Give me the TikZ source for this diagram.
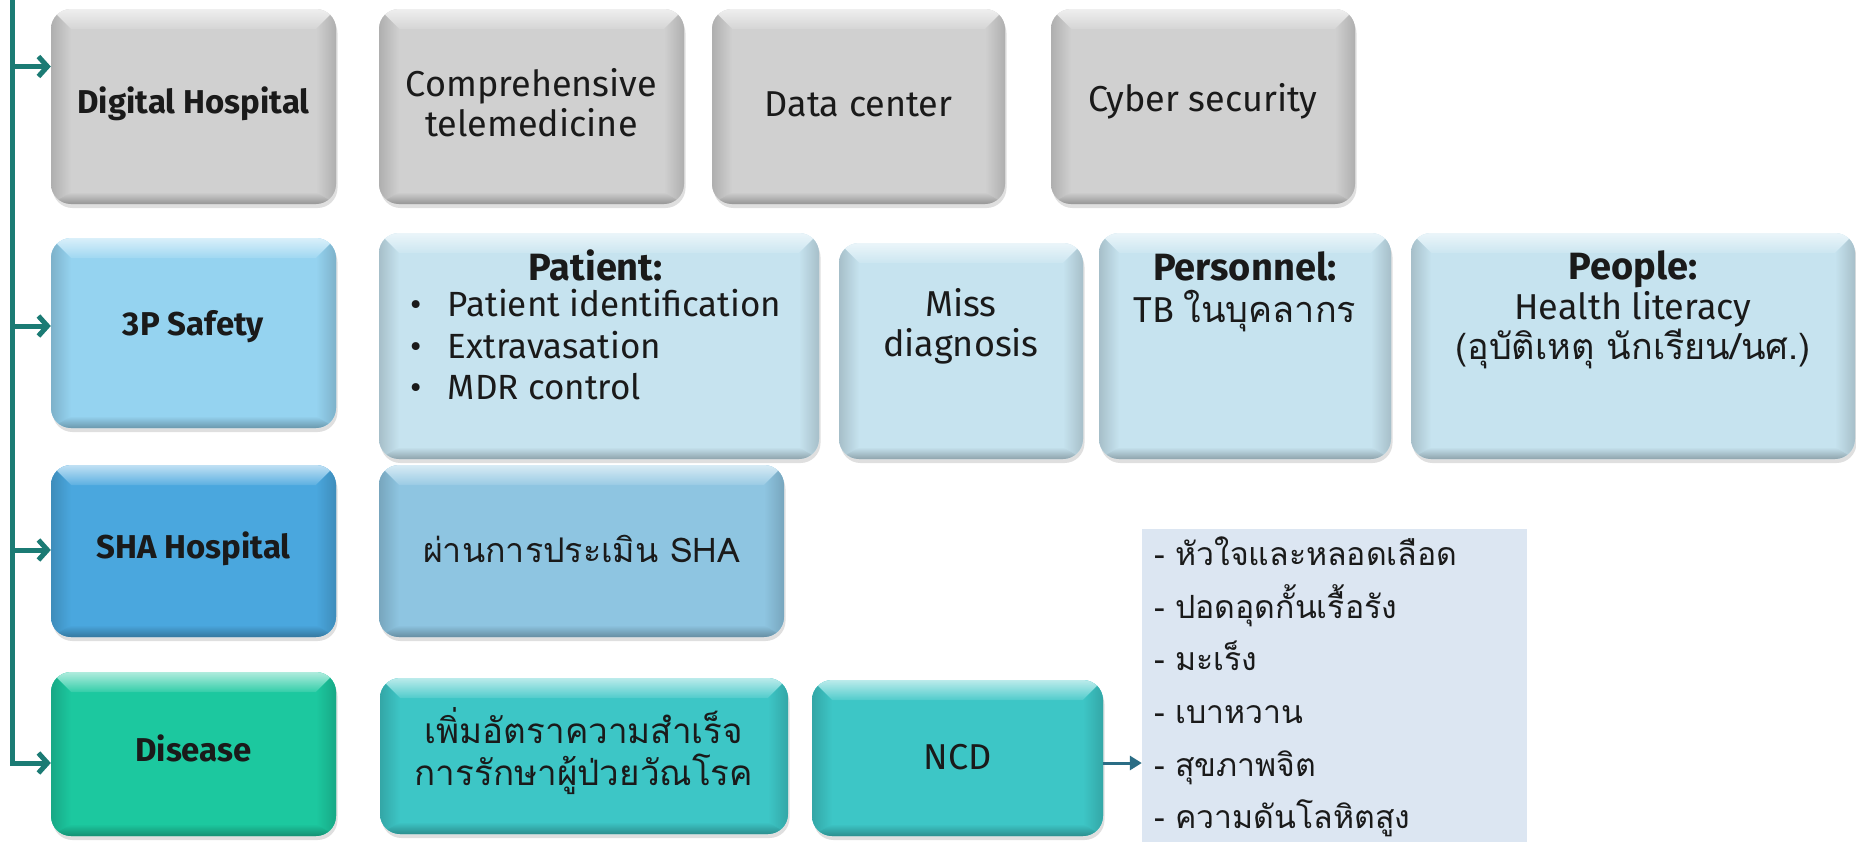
\documentclass[tikz,border=0pt]{standalone}
\usepackage{fontspec}
\setmainfont{Fira Sans}
\newfontfamily\thaifont[Script=Thai]{Loma}
\usetikzlibrary{arrows.meta,shadows,calc}
\definecolor{cgray}{HTML}{D0D0D0}
\definecolor{csky}{HTML}{95D3F0}
\definecolor{cpale}{HTML}{C6E3EF}
\definecolor{csha}{HTML}{4AA7DE}
\definecolor{cpass}{HTML}{8EC5E1}
\definecolor{cdis}{HTML}{1CC89F}
\definecolor{cteal}{HTML}{3DC6C6}
\definecolor{clist}{HTML}{DCE6F2}
\definecolor{ctrunk}{HTML}{1B7B74}
\definecolor{cncdarrow}{HTML}{2A6D85}
\definecolor{ctext}{HTML}{1A1A1A}
\tikzset{
  bevel/.style={
    rounded corners=20pt, draw=none, fill=#1, inner sep=0pt,
    drop shadow={opacity=0.25, shadow xshift=1.5pt, shadow yshift=-4pt},
    path picture={
      \coordinate (bvNW) at (path picture bounding box.north west);
      \coordinate (bvNE) at (path picture bounding box.north east);
      \coordinate (bvSW) at (path picture bounding box.south west);
      \coordinate (bvSE) at (path picture bounding box.south east);
      \shade[sharp corners, top color=#1!35!white, bottom color=#1!90!white] (bvNW) -- (bvNE) -- ([shift={(-20pt,-20pt)}]bvNE) -- ([shift={(20pt,-20pt)}]bvNW) -- cycle;
      \shade[sharp corners, left color=#1!84!black, right color=#1] (bvNW) -- ([shift={(20pt,-20pt)}]bvNW) -- ([shift={(20pt,12pt)}]bvSW) -- (bvSW) -- cycle;
      \shade[sharp corners, left color=#1, right color=#1!84!black] (bvNE) -- ([shift={(-20pt,-20pt)}]bvNE) -- ([shift={(-20pt,12pt)}]bvSE) -- (bvSE) -- cycle;
      \shade[sharp corners, top color=#1, bottom color=#1!72!black] (bvSW) -- ([shift={(20pt,12pt)}]bvSW) -- ([shift={(-20pt,12pt)}]bvSE) -- (bvSE) -- cycle;
    }
  },
  txt/.style={align=center, inner sep=0pt, text=ctext, font=\fontsize{36}{40}\selectfont},
  lbl/.style={align=center, inner sep=0pt, text=ctext, font=\bfseries\fontsize{33}{38}\selectfont},
  thtxt/.style={align=center, inner sep=0pt, text=ctext, font=\thaifont\fontsize{35}{42}\selectfont},
  trunk/.style={draw=ctrunk, line width=5pt, -{Straight Barb[length=9pt,width=20pt]}},
  ncdarrow/.style={draw=cncdarrow, line width=3pt, -{Triangle[length=12pt,width=14pt]}},
}
\begin{document}
\begin{tikzpicture}[x=1pt,y=-1pt]
\useasboundingbox (0,0) rectangle (1856,841);
\fill[white] (0,0) rectangle (1856,841);

% row 1
\node[bevel=cgray, minimum width=285pt, minimum height=195pt] (dh) at (193.5,106.5) {};
\node[bevel=cgray, minimum width=305pt, minimum height=195pt] (ct) at (531.5,106.5) {};
\node[bevel=cgray, minimum width=293pt, minimum height=195pt] (dc) at (858.5,106.5) {};
\node[bevel=cgray, minimum width=304pt, minimum height=195pt] (cs) at (1203,106.5) {};
% row 2
\node[bevel=csky, minimum width=285pt, minimum height=190pt] (sf) at (193.5,333) {};
\node[bevel=cpale, minimum width=440pt, minimum height=226pt] (pat) at (599,346) {};
\node[bevel=cpale, minimum width=244pt, minimum height=216pt] (miss) at (961,351) {};
\node[bevel=cpale, minimum width=292pt, minimum height=226pt] (pers) at (1245,346) {};
\node[bevel=cpale, minimum width=444pt, minimum height=226pt] (peop) at (1633,346) {};
% row 3
\node[bevel=csha, minimum width=285pt, minimum height=172pt] (sha) at (193.5,551) {};
\node[bevel=cpass, minimum width=405pt, minimum height=172pt] (pass) at (581.5,551) {};
% row 4
\node[bevel=cdis, minimum width=285pt, minimum height=164pt] (dis) at (193.5,754) {};
\node[bevel=cteal, minimum width=408pt, minimum height=156pt] (inc) at (584,756) {};
\node[bevel=cteal, minimum width=291pt, minimum height=156pt] (ncd) at (957.5,758) {};
\node[fill=clist, minimum width=385pt, minimum height=316pt, text width=361pt, inner xsep=12pt, inner ysep=0pt, align=left, text=ctext, font=\thaifont\fontsize{32}{52.6}\selectfont] (ncdlist) at (1334.5,687) {- หัวใจและหลอดเลือด\\- ปอดอุดกั้นเรื้อรัง\\- มะเร็ง\\- เบาหวาน\\- สุขภาพจิต\\- ความดันโลหิตสูง};

% texts
\node[lbl] (dh-t) at (193.5,104) {Digital Hospital};
\node[txt] (ct-t) at (531.5,103) {Comprehensive\\telemedicine};
\node[txt] (dc-t) at (858.5,104) {Data center};
\node[txt] (cs-t) at (1203,101) {Cyber security};
\node[lbl] (sf-t) at (193.5,327) {3P Safety};
\node[txt, anchor=north, font=\fontsize{35}{41.5}\selectfont] (pat-t) at (596,249) {{\bfseries\fontsize{38}{41.5}\selectfont Patient:}\\[-5pt]
  \begin{tabular}[t]{@{}l@{\hspace{26pt}}l@{}}•&Patient identification\\•&Extravasation\\•&MDR control\end{tabular}};
\node[txt] (miss-t) at (961,326) {Miss\\diagnosis};
\node[txt, font=\fontsize{36}{42}\selectfont] (pers-t) at (1245,292) {{\bfseries\fontsize{38}{42}\selectfont Personnel:}\\TB {\thaifont ในบุคลากร}};
\node[txt, font=\fontsize{36}{40}\selectfont] (peop-t) at (1633,310) {{\bfseries\fontsize{38}{40}\selectfont People:}\\Health literacy\\{\thaifont (อุบัติเหตุ นักเรียน/นศ.)}};
\node[lbl] (sha-t) at (193.5,549) {SHA Hospital};
\node[thtxt, font=\thaifont\fontsize{34}{42}\selectfont] (pass-t) at (581.5,549) {ผ่านการประเมิน SHA};
\node[lbl] (dis-t) at (193.5,748) {Disease};
\node[thtxt] (inc-t) at (584,751) {เพิ่มอัตราความสำเร็จ\\การรักษาผู้ป่วยวัณโรค};
\node[txt] (ncd-t) at (957.5,757) {NCD};

% connectors
\coordinate (trunktop) at (12,0);
\coordinate (adh) at ([yshift=40pt]dh.west);
\coordinate (asf) at ([yshift=7pt]sf.west);
\coordinate (asha) at ([yshift=1pt]sha.west);
\coordinate (adis) at ([yshift=-9pt]dis.west);
\draw[trunk] (trunktop) |- (adis);
\draw[trunk] (trunktop |- adh) -- (adh);
\draw[trunk] (trunktop |- asf) -- (asf);
\draw[trunk] (trunktop |- asha) -- (asha);
\coordinate (ancd) at ([yshift=-5pt]ncd.east);
\draw[ncdarrow] (ancd) -- (ancd -| ncdlist.west);
\end{tikzpicture}
\end{document}
